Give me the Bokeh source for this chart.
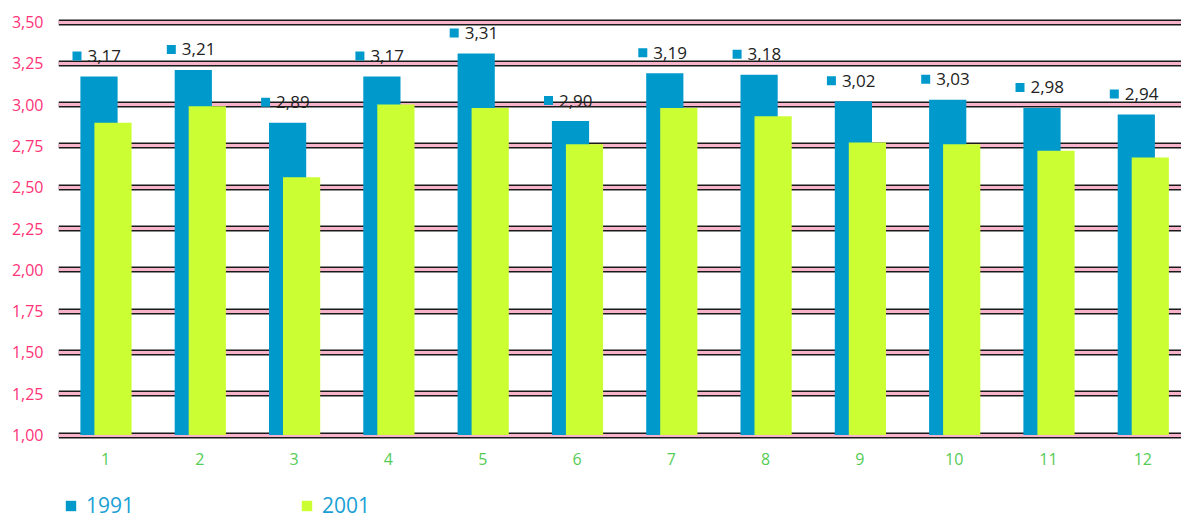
from bokeh.plotting import figure
from bokeh.layouts import column
from bokeh.models import ColumnDataSource, FixedTicker, Grid, Legend, LegendItem, Range1d
from bokeh.transform import dodge
from bokeh.core.properties import value
from bokeh.embed import file_html
from bokeh.resources import INLINE

# ---- data ----
categories = [1, 2, 3, 4, 5, 6, 7, 8, 9, 10, 11, 12]
values_1991 = [3.17, 3.21, 2.89, 3.17, 3.31, 2.90, 3.19, 3.18, 3.02, 3.03, 2.98, 2.94]
values_2001 = [2.89, 2.99, 2.56, 3.00, 2.98, 2.76, 2.98, 2.93, 2.77, 2.76, 2.72, 2.68]
series_names = ["1991", "2001"]
y_ticks = [1.00, 1.25, 1.50, 1.75, 2.00, 2.25, 2.50, 2.75, 3.00, 3.25, 3.50]
y_tick_labels = ["1,00", "1,25", "1,50", "1,75", "2,00", "2,25", "2,50", "2,75", "3,00", "3,25", "3,50"]
x_tick_labels = ["1", "2", "3", "4", "5", "6", "7", "8", "9", "10", "11", "12"]

# ---- layout / style ----
W, H = 1181, 520
LEGEND_H = 35
MAIN_H = H - LEGEND_H
FRAME_LEFT, FRAME_TOP, FRAME_BOTTOM = 58, 10, 445
FRAME_H = FRAME_BOTTOM - FRAME_TOP
FRAME_W = W - FRAME_LEFT
PX_PER_UNIT = 165.2
BASE_PX = 434.5          # pixel row of the lowest tick
CAT_PX = 94.3
FIRST_CAT_PX = 105

y_start = y_ticks[0] - (FRAME_BOTTOM - BASE_PX) / PX_PER_UNIT
y_end = y_start + FRAME_H / PX_PER_UNIT
x_start = categories[0] - (FIRST_CAT_PX - FRAME_LEFT) / CAT_PX
x_end = x_start + FRAME_W / CAT_PX

BLUE = "#0099cc"
GREEN = "#ccff33"
PINK = "#f7b3c9"
FONT = "Open Sans"

label_text = [f"{v:.2f}".replace(".", ",") for v in values_1991]
label_raise = 20.5 / PX_PER_UNIT
source = ColumnDataSource(dict(
    x=categories,
    v1991=values_1991,
    v2001=values_2001,
    lab=label_text,
    lab_y=[v + label_raise for v in values_1991],
))

p = figure(width=W, height=MAIN_H, output_backend="svg", toolbar_location=None,
           x_range=Range1d(x_start, x_end), y_range=Range1d(y_start, y_end),
           min_border_left=FRAME_LEFT, min_border_right=0, min_border_top=FRAME_TOP,
           min_border_bottom=MAIN_H - FRAME_BOTTOM)
p.outline_line_color = None
p.background_fill_color = "white"
p.border_fill_color = "white"

# grid: dark line with pink band inside
p.xgrid.visible = False
p.ygrid.ticker = FixedTicker(ticks=y_ticks)
p.ygrid.grid_line_color = "#1a1a1a"
p.ygrid.grid_line_width = 6
pink_grid = Grid(dimension=1, ticker=FixedTicker(ticks=y_ticks),
                 grid_line_color=PINK, grid_line_width=3)
p.add_layout(pink_grid)

bar_w = 37.2 / CAT_PX
p.vbar(x=dodge("x", -6.5 / CAT_PX, range=p.x_range), top="v1991", bottom=y_ticks[0],
       width=bar_w, source=source, fill_color=BLUE, line_color=None)
p.vbar(x=dodge("x", 7.5 / CAT_PX, range=p.x_range), top="v2001", bottom=y_ticks[0],
       width=bar_w, source=source, fill_color=GREEN, line_color=None)

# data labels for 1991
p.rect(x=dodge("x", -28.5 / CAT_PX, range=p.x_range), y="lab_y", width=9, height=9,
       width_units="screen", height_units="screen", source=source,
       fill_color=BLUE, line_color=None)
p.text(x="x", y="v1991", text="lab", source=source, x_offset=-18, y_offset=-20.5,
       text_align="left", text_baseline="middle", text_font=value(FONT),
       text_font_size="17px", text_color="#222222")

# axes
p.yaxis.ticker = FixedTicker(ticks=y_ticks)
p.yaxis.major_label_overrides = {t: s for t, s in zip(y_ticks, y_tick_labels)}
p.yaxis.axis_line_color = None
p.yaxis.major_tick_line_color = None
p.yaxis.minor_tick_line_color = None
p.yaxis.major_tick_out = 0
p.yaxis.major_label_standoff = 15
p.yaxis.major_label_text_color = "#ff3377"
p.yaxis.major_label_text_font = FONT
p.yaxis.major_label_text_font_size = "16px"

p.xaxis.ticker = FixedTicker(ticks=categories)
p.xaxis.major_label_overrides = {c: s for c, s in zip(categories, x_tick_labels)}
p.xaxis.axis_line_color = None
p.xaxis.major_tick_line_color = None
p.xaxis.minor_tick_line_color = None
p.xaxis.major_tick_out = 0
p.xaxis.major_label_standoff = 7
p.xaxis.major_label_text_color = "#55cc55"
p.xaxis.major_label_text_font = FONT
p.xaxis.major_label_text_font_size = "16px"

# ---- legend strip (its bars lie outside its range; only the legend shows) ----
pl = figure(width=W, height=LEGEND_H, output_backend="svg", toolbar_location=None,
            x_range=Range1d(-3, -2), y_range=Range1d(0, 1),
            x_axis_type=None, y_axis_type=None,
            min_border_left=0, min_border_right=0, min_border_top=0, min_border_bottom=0)
pl.outline_line_color = None
pl.grid.visible = False
lr1 = pl.vbar(x="x", top="v1991", width=0.1, source=source, fill_color=BLUE, line_color=None)
lr2 = pl.vbar(x="x", top="v2001", width=0.1, source=source, fill_color=GREEN, line_color=None)
legend = Legend(items=[LegendItem(label=series_names[0], renderers=[lr1]),
                       LegendItem(label=series_names[1], renderers=[lr2])],
                orientation="horizontal", location=(6, 1),
                margin=0, padding=0, spacing=166,
                glyph_width=13, glyph_height=13, label_standoff=9,
                label_text_font=FONT, label_text_font_size="21px",
                label_text_color="#1a9fd4",
                border_line_color=None, background_fill_alpha=0)
pl.add_layout(legend)

layout = column(p, pl, spacing=0)
open("out.html", "w").write(file_html(layout, INLINE))
